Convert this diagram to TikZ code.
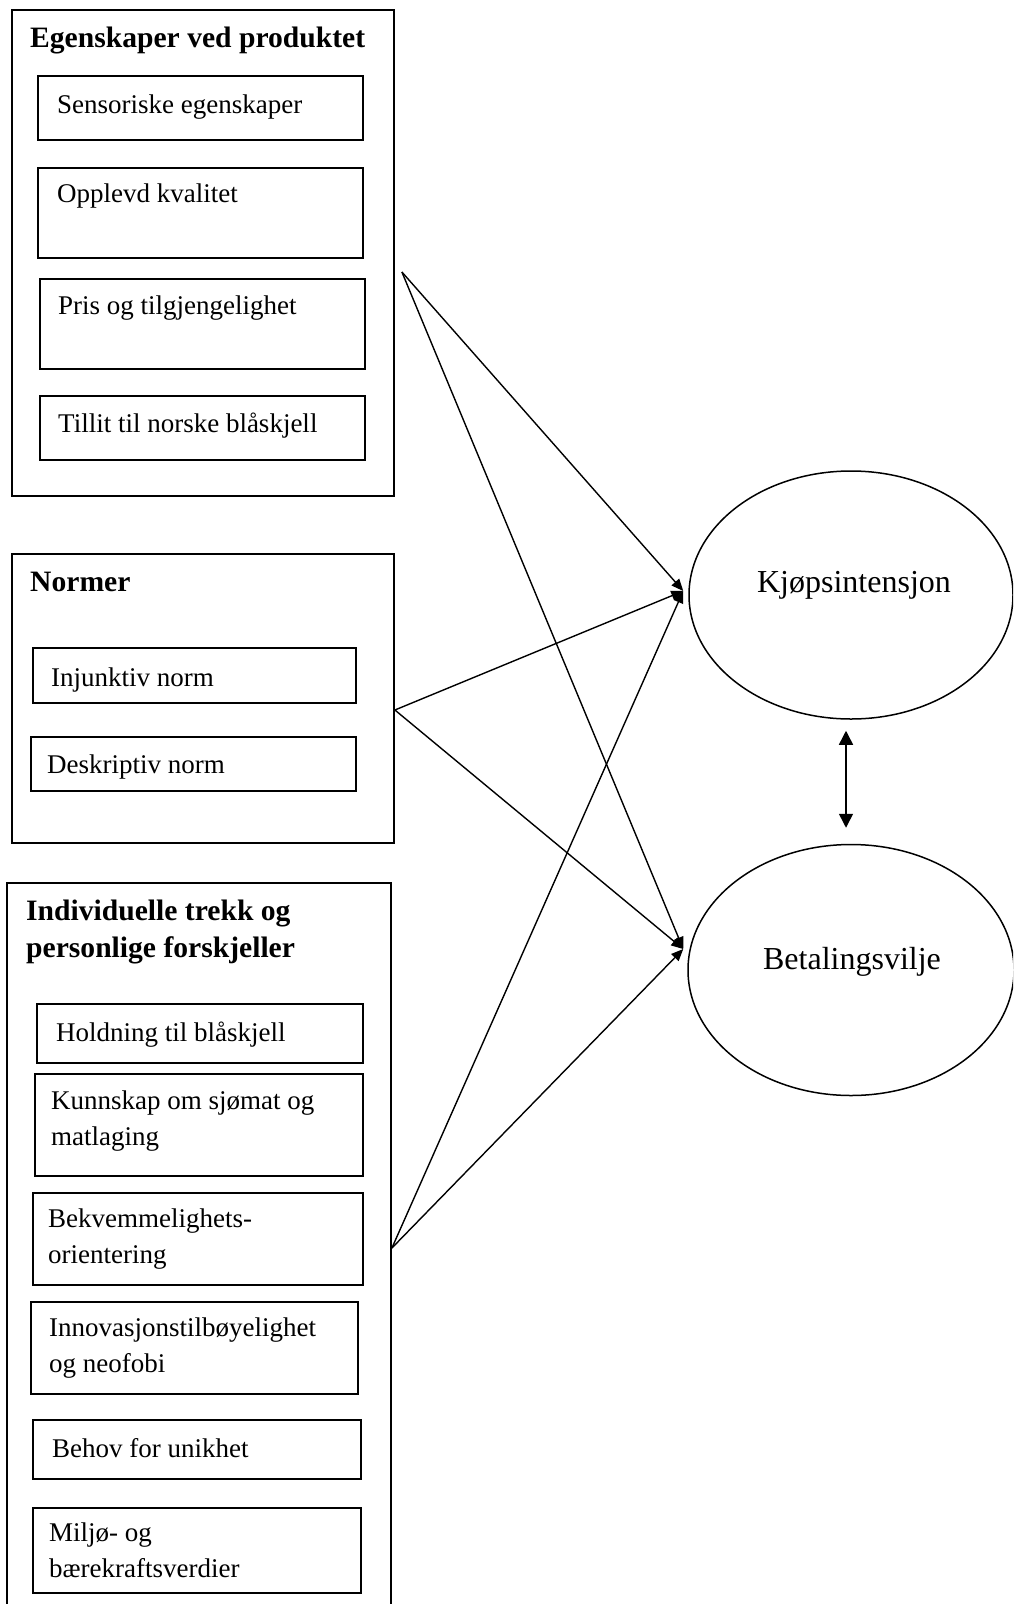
\documentclass[tikz,border=0pt]{standalone}
\usepackage{fontspec}
\setmainfont{Liberation Serif}
\usetikzlibrary{arrows.meta,calc,shapes.geometric}
\newcommand{\bxnode}[5]{\node[box,minimum width={(#4-#2)*1pt},minimum height={(#5-#3)*1pt}] (#1) at ({(#2+#4)/2},{(#3+#5)/2}) {};}
\begin{document}
\begin{tikzpicture}[x=1pt,y=-1pt,
  box/.style={draw, line width=1.8pt, rectangle, inner sep=0pt},
  lbl/.style={inner sep=0pt, anchor=base west, align=left, font=\fontsize{27}{35.5}\selectfont},
  ttl/.style={inner sep=0pt, anchor=base west, align=left, font=\fontsize{29.6}{37}\selectfont\bfseries},
  oval/.style={draw, ellipse, line width=1.5pt, inner sep=0pt},
  otxt/.style={inner sep=0pt, anchor=base, font=\fontsize{32}{38}\selectfont},
  conn/.style={line width=1.4pt, -{Triangle[length=12pt,width=10pt]}},
  dbl/.style={line width=1.5pt, {Triangle[length=14pt,width=14pt]}-{Triangle[length=14pt,width=14pt]}}
]
\clip (0,0) rectangle (1013,1604);
\fill[white] (0,0) rectangle (1013,1604);

% Group 1
\bxnode{g1}{12}{10}{394}{496}
\node[ttl] (t1) at (30,47) {Egenskaper ved produktet};
\bxnode{s1}{38}{76}{363}{140}
\bxnode{s2}{38}{168}{363}{258}
\bxnode{s3}{40}{279}{365}{369}
\bxnode{s4}{40}{396}{365}{460}
\node[lbl] (s1t) at (57,113) {Sensoriske egenskaper};
\node[lbl] (s2t) at (57,202) {Opplevd kvalitet};
\node[lbl] (s3t) at (58,314) {Pris og tilgjengelighet};
\node[lbl] (s4t) at (58,432) {Tillit til norske blåskjell};

% Group 2
\bxnode{g2}{12}{554}{394}{843}
\node[ttl] (t2) at (30,591) {Normer};
\bxnode{n1}{33}{648}{356}{703}
\bxnode{n2}{31}{737}{356}{791}
\node[lbl] (n1t) at (51,686) {Injunktiv norm};
\node[lbl] (n2t) at (47,773) {Deskriptiv norm};

% Group 3 (multi-line labels: base = baseline of last line)
\bxnode{g3}{7}{883}{391}{1625}
\node[ttl] (t3) at (26,957) {Individuelle trekk og\\personlige forskjeller};
\bxnode{i1}{37}{1004}{363}{1063}
\bxnode{i2}{35}{1074}{363}{1176}
\bxnode{i3}{33}{1193}{363}{1285}
\bxnode{i4}{31}{1302}{358}{1394}
\bxnode{i5}{33}{1420}{361}{1479}
\bxnode{i6}{33}{1508}{361}{1593}
\node[lbl] (i1t) at (56,1041) {Holdning til blåskjell};
\node[lbl] (i2t) at (51,1145) {Kunnskap om sjømat og\\matlaging};
\node[lbl] (i3t) at (48,1263) {Bekvemmelighets-\\orientering};
\node[lbl] (i4t) at (49,1372) {Innovasjonstilbøyelighet\\og neofobi};
\node[lbl] (i5t) at (52,1457) {Behov for unikhet};
\node[lbl] (i6t) at (49,1577) {Miljø- og\\bærekraftsverdier};

% Outcomes
\node[oval, minimum width=324pt, minimum height=248pt] (K) at (851,595) {};
\node[otxt] (Kt) at (854,592) {Kjøpsintensjon};
\node[oval, minimum width=326pt, minimum height=251pt] (B) at (851,970) {};
\node[otxt] (Bt) at (852,969) {Betalingsvilje};

% Connectors
\coordinate (o1) at ($(g1.east)+(7,19)$);
\coordinate (o2) at ($(g2.east)+(0,11.5)$);
\coordinate (o3) at ($(g3.east)+(0,-6)$);
\coordinate (tK) at ($(K.west)+(-5,-4)$);
\coordinate (tB) at ($(B.west)+(-4,-21)$);
\draw[conn] (o1) -- (tK);
\draw[conn] (o1) -- (tB);
\draw[conn] (o2) -- (tK);
\draw[conn] (o2) -- (tB);
\draw[conn] (o3) -- (tK);
\draw[conn] (o3) -- (tB);
\draw[dbl] ($(K.south)+(-5,11)$) -- ($(B.north)+(-5,-16)$);
\end{tikzpicture}
\end{document}
